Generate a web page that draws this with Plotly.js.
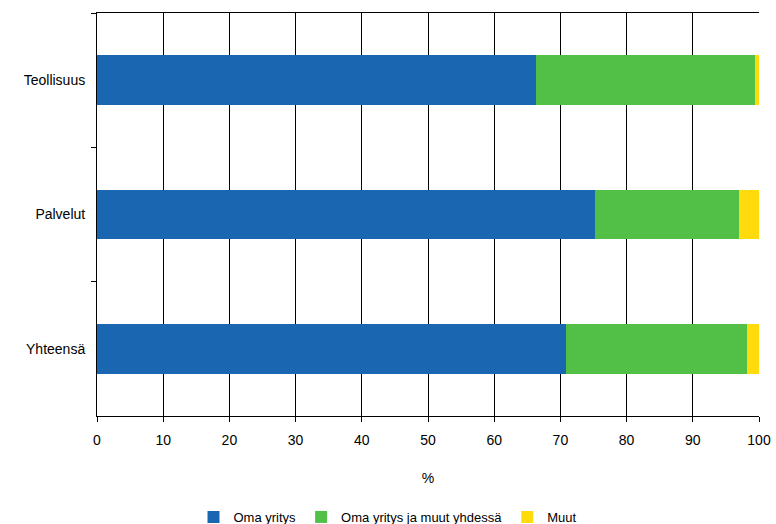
<!DOCTYPE html>
<html>
<head>
<meta charset="utf-8">
<script src="https://cdn.plot.ly/plotly-3.0.1.min.js"></script>
<style>html,body{margin:0;padding:0;background:#fff;}#chart{width:776px;height:524px;}</style>
</head>
<body>
<div id="chart"></div>
<script>
const categories = ["Teollisuus", "Palvelut", "Yhteensä"];
const omaYritys = [66.3, 75.2, 70.8];
const omaJaMuut = [33.1, 21.8, 27.4];
const muut = [0.6, 3.0, 1.8];
const seriesNames = ["Oma yritys", "Oma yritys ja muut yhdessä", "Muut"];
const xTicks = [0, 10, 20, 30, 40, 50, 60, 70, 80, 90, 100];

const colors = ["#1a66b0", "#52bf46", "#ffdb0d"];
const series = [omaYritys, omaJaMuut, muut];
const traces = series.map((vals, i) => ({
  type: "bar",
  orientation: "h",
  name: seriesNames[i],
  y: categories,
  x: vals,
  width: 0.37,
  marker: {color: colors[i], line: {width: 0}},
  hoverinfo: "x+name"
}));

const layout = {
  width: 776, height: 524,
  margin: {l: 97, r: 17, t: 13, b: 108, autoexpand: false},
  barmode: "stack",
  paper_bgcolor: "#fff", plot_bgcolor: "#fff",
  font: {family: "Liberation Sans, Arial, sans-serif", size: 14, color: "#000"},
  xaxis: {
    range: [0, 100], tickvals: xTicks, ticktext: xTicks.map(String),
    showgrid: true, gridcolor: "#000", gridwidth: 1,
    showline: true, linecolor: "#000", linewidth: 1, mirror: true,
    ticks: "outside", ticklen: 5, tickcolor: "#000",
    ticklabelstandoff: 6,
    zeroline: false, automargin: false,
    title: {text: "%", standoff: 26, font: {size: 14}},
    fixedrange: true
  },
  yaxis: {
    type: "category", autorange: "reversed",
    categoryorder: "array", categoryarray: categories,
    tickson: "boundaries", ticks: "outside", ticklen: 5, tickcolor: "#000",
    showline: true, linecolor: "#000", linewidth: 1,
    showgrid: false, zeroline: false, ticklabelstandoff: 8, automargin: false,
    fixedrange: true
  },
  legend: {
    orientation: "h", x: 0.5, xanchor: "center", xref: "container",
    y: -0.2506, yanchor: "middle", yref: "paper",
    font: {size: 13}, itemwidth: 30, tracegroupgap: 0, traceorder: "normal"
  },
  showlegend: true
};

Plotly.newPlot("chart", traces, layout, {staticPlot: true, displayModeBar: false});
</script>
</body>
</html>
